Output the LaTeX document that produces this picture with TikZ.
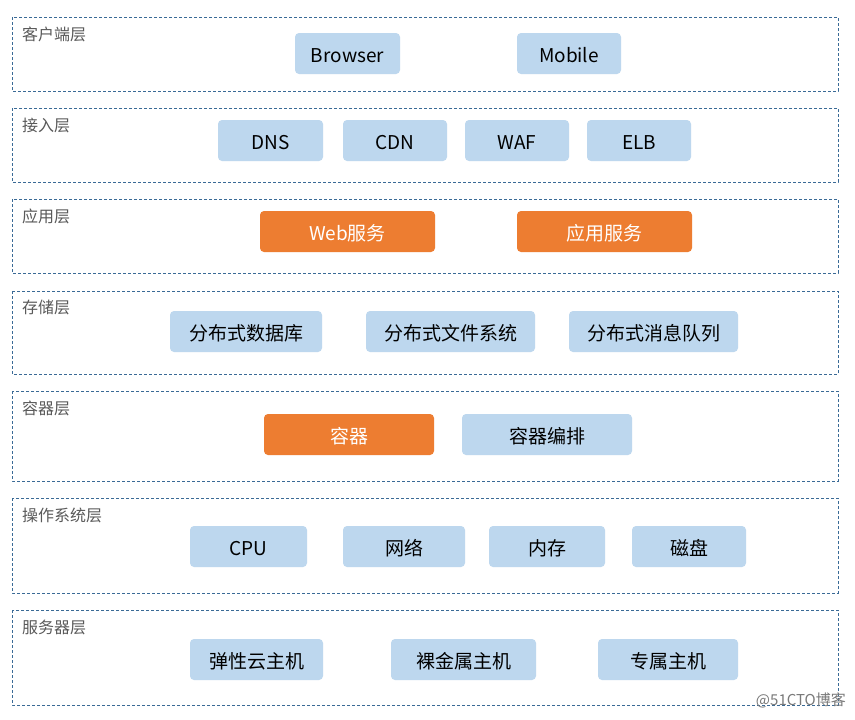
\documentclass[tikz,border=0pt]{standalone}
\usepackage{fontspec}
\setmainfont{Noto Sans CJK SC}
\usetikzlibrary{positioning}
\definecolor{boxblue}{HTML}{BDD7EE}
\definecolor{boxorange}{HTML}{ED7D31}
\definecolor{dashblue}{HTML}{3A6A96}
\definecolor{labelgray}{HTML}{595959}
\begin{document}
\begin{tikzpicture}[x=1pt,y=-1pt,
  layer/.style={draw=dashblue, line width=0.8pt, dash pattern=on 3pt off 2pt},
  layertitle/.style={anchor=west, inner sep=0pt, text=labelgray, font=\fontsize{16}{18}\selectfont},
  boxbase/.style={rounded corners=4pt, inner sep=0pt, text height=18.4pt, text depth=0pt, font=\fontsize{19}{21}\selectfont},
  bluebox/.style={boxbase, fill=boxblue, text=black},
  orangebox/.style={boxbase, fill=boxorange, text=white}]
\useasboundingbox (0,0) rectangle (855,720);
\fill[white] (0,0) rectangle (855,720);
% layers
\draw[layer] (12,17) rectangle (838,91);
\draw[layer] (12,108) rectangle (838,182);
\draw[layer] (12,199) rectangle (838,273);
\draw[layer] (12,291) rectangle (838,374);
\draw[layer] (12,391) rectangle (838,481);
\draw[layer] (12,498) rectangle (838,593);
\draw[layer] (12,610) rectangle (838,705);
\node[layertitle] (t1) at (22,34) {客户端层};
\node[layertitle] (t2) at (22,125) {接入层};
\node[layertitle] (t3) at (22,216) {应用层};
\node[layertitle] (t4) at (22,307) {存储层};
\node[layertitle] (t5) at (22,408) {容器层};
\node[layertitle] (t6) at (22,515) {操作系统层};
\node[layertitle] (t7) at (22,627) {服务器层};
\newcommand{\mybox}[6]{\node[#1, minimum width=#4-#3, minimum height=41] (#2) at ({(#3+#4)/2},#5) {#6};}
\mybox{bluebox}{browser}{295}{400}{53.5}{Browser}
\mybox{bluebox}{mobile}{517}{621}{53.5}{Mobile}
\mybox{bluebox}{dns}{218}{323}{140.5}{DNS}
\mybox{bluebox}{cdn}{343}{447}{140.5}{CDN}
\mybox{bluebox}{waf}{465}{569}{140.5}{WAF}
\mybox{bluebox}{elb}{587}{691}{140.5}{ELB}
\mybox{orangebox}{web}{260}{435}{231.5}{Web服务}
\mybox{orangebox}{app}{517}{692}{231.5}{应用服务}
\mybox{bluebox}{db}{170}{322}{331.5}{分布式数据库}
\mybox{bluebox}{fs}{366}{535}{331.5}{分布式文件系统}
\mybox{bluebox}{mq}{569}{738}{331.5}{分布式消息队列}
\mybox{orangebox}{ctr}{264}{434}{434.5}{容器}
\mybox{bluebox}{orch}{462}{632}{434.5}{容器编排}
\mybox{bluebox}{cpu}{190}{307}{546.5}{CPU}
\mybox{bluebox}{net}{343}{465}{546.5}{网络}
\mybox{bluebox}{mem}{489}{605}{546.5}{内存}
\mybox{bluebox}{disk}{632}{746}{546.5}{磁盘}
\mybox{bluebox}{ecs}{190}{323}{659.5}{弹性云主机}
\mybox{bluebox}{bms}{391}{536}{659.5}{裸金属主机}
\mybox{bluebox}{ded}{598}{738}{659.5}{专属主机}
\node[anchor=east, inner sep=0pt, text=labelgray!80, font=\fontsize{15}{17}\selectfont] (wm) at (846,700) {@51CTO博客};
\end{tikzpicture}
\end{document}
